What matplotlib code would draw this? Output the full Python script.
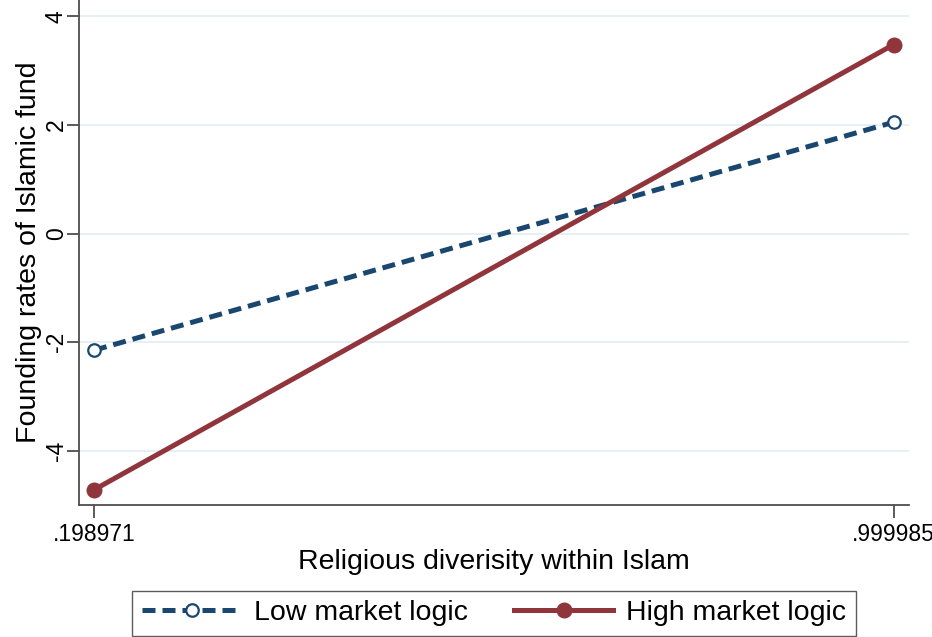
import matplotlib.pyplot as plt
import numpy as np

plt.rcParams["font.family"] = ["Liberation Sans", "DejaVu Sans"]

x_vals = [0.198971, 0.999985]
x_labels = [".198971", ".999985"]
low_market = [-2.15, 2.05]
high_market = [-4.72, 3.48]
y_ticks = [-4, -2, 0, 2, 4]

navy = "#1a476f"
maroon = "#90353b"
axis_grey = "#4d4d4d"

fig = plt.figure(figsize=(9.32, 6.37), dpi=100)
ax = fig.add_axes([0.0848, 0.2072, 0.8902, 0.7928])

ax.plot(x_vals, low_market, color=navy, lw=3.6, ls=(0, (2.6, 1.4)),
        marker="o", ms=9, mfc="white", mec=navy, mew=1.6,
        label="Low market logic", zorder=3)
ax.plot(x_vals, high_market, color=maroon, lw=3.6,
        marker="o", ms=10.5, mfc=maroon, mec=maroon,
        label="High market logic", zorder=3)

ax.set_xlim(0.18396, 1.01500)
ax.set_ylim(-5.0, 4.3)
ax.set_xticks(x_vals)
ax.set_xticklabels(x_labels)
ax.set_yticks(y_ticks)
ax.set_yticklabels([str(v) for v in y_ticks], rotation=90, va="center")

ax.grid(axis="y", color="#e6eff3", lw=1.4)
ax.set_axisbelow(True)

for side in ["top", "right"]:
    ax.spines[side].set_visible(False)
for side in ["left", "bottom"]:
    ax.spines[side].set_color(axis_grey)
    ax.spines[side].set_linewidth(1.3)

ax.tick_params(direction="out", length=9, width=1.3, color=axis_grey,
               labelsize=16.5)
ax.tick_params(axis="x", pad=4)
ax.tick_params(axis="y", pad=-1)

ax.set_xlabel("Religious diverisity within Islam", fontsize=20.5, labelpad=2)
ax.set_ylabel("Founding rates of Islamic fund", fontsize=20.5, labelpad=2)

leg = fig.legend(loc="lower center", bbox_to_anchor=(0.530, 0.002), ncol=2,
                 fontsize=20.5, frameon=True, fancybox=False,
                 edgecolor="#333333", handlelength=3.5, handletextpad=0.45,
                 columnspacing=1.6, borderpad=0.33, borderaxespad=0.0)
leg.get_frame().set_linewidth(1.0)

fig.savefig("out.png", dpi=100, facecolor="white")
